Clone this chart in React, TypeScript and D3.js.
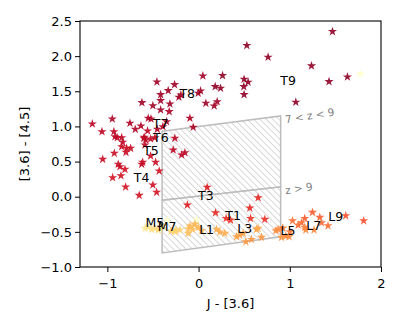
import React, { useEffect, useRef } from 'react'
import * as d3 from 'd3'

// [J - [3.6], [3.6] - [4.5], spectral index (M0 = 0, L0 = 10, T0 = 20)]
const tDwarfs: [number, number, number][] = [
  [-1.165, 1.036, 26], [-1.059, 0.926, 26], [-0.946, 1.107, 27], [-0.928, 0.926, 26], [-0.917, 0.855, 26],
  [-0.892, 0.84, 26], [-0.843, 0.84, 26], [-0.752, 1.046, 27], [-0.694, 0.96, 27], [-0.632, 1.007, 27],
  [-0.621, 1.339, 28], [-0.501, 1.296, 28], [-0.457, 1.634, 28], [-0.416, 1.453, 28], [-0.416, 1.368, 28],
  [-0.416, 1.235, 28], [-0.333, 1.51, 28], [-0.314, 1.321, 28], [-0.322, 1.211, 27], [-0.263, 1.595, 28],
  [-0.216, 1.416, 28], [-0.194, 1.449, 28], [-0.095, 1.117, 27], [-0.059, 0.989, 27], [-0.004, 1.473, 28],
  [0.022, 1.506, 28], [0.047, 1.719, 28], [0.08, 1.33, 28], [0.182, 1.567, 29], [0.241, 1.544, 29],
  [0.263, 1.724, 29], [0.204, 1.353, 28], [0.171, 1.292, 28], [-0.552, 1.117, 27], [-0.522, 1.107, 27],
  [-0.453, 0.96, 27], [-0.391, 0.997, 27], [-0.35, 1.068, 27], [-0.596, 0.846, 26], [-0.26, 0.832, 26],
  [1.468, 2.35, 29], [0.529, 2.151, 29], [0.762, 1.986, 29], [1.238, 1.862, 29], [1.632, 1.705, 29],
  [1.43, 1.638, 29], [1.066, 1.345, 29], [0.499, 1.672, 29], [0.543, 1.63, 29], [0.496, 1.567, 29],
  [0.499, 1.453, 29],
  [-0.832, 0.775, 26], [-0.745, 0.689, 25], [-0.789, 0.689, 25], [-0.796, 0.632, 25], [-0.843, 0.712, 25],
  [-0.924, 0.618, 25], [-1.051, 0.533, 25], [-0.881, 0.462, 25], [-0.862, 0.427, 25], [-0.807, 0.39, 24],
  [-0.942, 0.271, 24], [-0.851, 0.299, 24], [-0.8, 0.138, 24], [-0.651, 0.02, 24], [-0.613, 0.49, 25],
  [-0.624, 0.462, 25], [-0.526, 0.58, 25], [-0.471, 0.49, 25], [-0.432, 0.366, 24], [-0.501, 0.167, 24],
  [-0.46, 0.063, 24], [-0.599, 0.832, 26], [-0.58, 0.808, 26], [-0.526, 0.822, 26], [-0.588, 0.736, 26],
  [-0.559, 0.936, 26], [-0.479, 0.84, 26], [-0.278, 0.665, 26], [-0.186, 0.594, 26], [-0.15, 0.627, 26],
  [0.094, 0.134, 23], [0.653, -0.014, 22], [-0.123, -0.118, 23], [0.562, -0.161, 22], [0.186, -0.228, 22],
  [0.302, -0.308, 21], [0.35, -0.332, 21], [0.57, -0.308, 21], [0.726, -0.322, 21],
]

const lDwarfs: [number, number, number][] = [
  [-0.095, -0.417, 11], [-0.066, -0.464, 10], [-0.041, -0.389, 11], [-0.004, -0.436, 11], [0.033, -0.484, 11],
  [-0.114, -0.521, 10], [0.197, -0.464, 12], [0.233, -0.503, 12], [0.288, -0.521, 12], [0.416, -0.57, 13],
  [0.452, -0.546, 13], [0.489, -0.521, 13], [0.635, -0.464, 13], [0.518, -0.641, 14], [0.58, -0.607, 14],
  [0.653, -0.45, 12], [0.69, -0.578, 14], [0.847, -0.484, 15], [0.872, -0.464, 15], [0.909, -0.578, 14],
  [0.956, -0.56, 15], [0.992, -0.57, 15], [1.0, -0.499, 16], [1.03, -0.342, 17], [1.128, -0.37, 17],
  [1.164, -0.308, 18], [1.164, -0.436, 16], [1.091, -0.403, 17], [1.249, -0.222, 18], [1.329, -0.293, 18],
  [1.347, -0.37, 17], [1.266, -0.474, 15], [1.175, -0.474, 15], [1.419, -0.413, 17], [1.613, -0.271, 19],
  [1.81, -0.342, 19], [0.923, -0.446, 16],
]

const mDwarfs: [number, number, number][] = [
  [-0.586, -0.45, 5], [-0.552, -0.436, 5], [-0.515, -0.464, 6], [-0.479, -0.45, 6], [-0.442, -0.474, 7],
  [-0.394, -0.417, 7], [-0.344, -0.332, 0], [-0.249, -0.474, 8], [-0.303, -0.489, 8], [-0.205, -0.474, 8],
  [-0.114, -0.456, 9], [-0.424, -0.456, 7], [-0.26, -0.499, 8], [-0.022, -0.332, 0], [1.774, 1.748, 0],
]

// selection regions
const regionMidZ: [number, number][] = [[-0.4, 0.93], [0.9, 1.15], [0.9, 0.14], [-0.4, -0.05]]
const regionHighZ: [number, number][] = [[-0.4, -0.05], [0.9, 0.14], [0.9, -0.57], [-0.4, -0.8]]

const typeLabels: [string, number, number][] = [
  ['T8', -0.125, 1.473], ['T9', 0.981, 1.648], ['T7', -0.416, 1.046], ['T6', -0.413, 0.84],
  ['T5', -0.522, 0.651], ['T4', -0.624, 0.276], ['T3', 0.08, 0.014], ['T1', 0.379, -0.261],
  ['M5', -0.479, -0.37], ['M7', -0.344, -0.417], ['L1', 0.088, -0.464], ['L3', 0.507, -0.45],
  ['L5', 0.981, -0.484], ['L7', 1.263, -0.403], ['L9', 1.504, -0.275],
]

const xTicks = [-1, 0, 1, 2]
const yTicks = [-1, -0.5, 0, 0.5, 1, 1.5, 2, 2.5]

export default function App() {
  const svgRef = useRef<SVGSVGElement>(null)

  useEffect(() => {
    const svg = d3.select(svgRef.current)
    svg.selectAll('*').remove()
    const width = 408, height = 326
    const margin = { top: 21, right: 27, bottom: 59, left: 80 }
    const x = d3.scaleLinear().domain([-1.3, 2]).range([margin.left, width - margin.right])
    const y = d3.scaleLinear().domain([-1, 2.5]).range([height - margin.bottom, margin.top])
    const color = d3.scaleSequential(d3.interpolateYlOrRd).domain([0, 30])
    const font = 'DejaVu Sans, sans-serif'

    const defs = svg.append('defs')
    const pat = defs.append('pattern')
      .attr('id', 'hatch')
      .attr('patternUnits', 'userSpaceOnUse')
      .attr('width', 4.5).attr('height', 4.5)
      .attr('patternTransform', 'rotate(-45)')
    pat.append('line')
      .attr('x1', 0).attr('y1', 0).attr('x2', 0).attr('y2', 4.5)
      .attr('stroke', '#b8b8b8').attr('stroke-width', 1.1)

    const line = d3.line<[number, number]>().x(d => x(d[0])).y(d => y(d[1]))
    ;[regionMidZ, regionHighZ].forEach(r => {
      svg.append('path')
        .attr('d', line(r) + 'Z')
        .attr('fill', 'url(#hatch)')
        .attr('stroke', '#bdbdbd')
        .attr('stroke-width', 1.5)
    })

    // region labels
    svg.append('text')
      .attr('transform', `translate(${x(0.955)},${y(1.045)}) rotate(-9)`)
      .attr('font-family', font).attr('font-size', 10.5).attr('fill', '#808080')
      .text('7 < z < 9')
    svg.append('text')
      .attr('transform', `translate(${x(0.955)},${y(0.035)}) rotate(-9)`)
      .attr('font-family', font).attr('font-size', 10.5).attr('fill', '#808080')
      .text('z > 9')

    const star = d3.symbol().type(d3.symbolStar).size(26)
    const all = [...mDwarfs, ...lDwarfs, ...tDwarfs]
    svg.append('g').selectAll('path').data(all).enter().append('path')
      .attr('d', star)
      .attr('transform', d => `translate(${x(d[0])},${y(d[1])})`)
      .attr('fill', d => color(d[2]))
      .attr('fill-opacity', 0.9)

    svg.append('g').selectAll('text').data(typeLabels).enter().append('text')
      .attr('x', d => x(d[1])).attr('y', d => y(d[2]))
      .attr('text-anchor', 'middle').attr('dominant-baseline', 'central')
      .attr('font-family', font).attr('font-size', 12.5).attr('fill', '#000')
      .text(d => d[0])

    // axes
    const xAxis = svg.append('g')
      .attr('transform', `translate(0,${height - margin.bottom})`)
      .call(d3.axisBottom(x).tickValues(xTicks).tickFormat(d3.format('d')).tickSize(5).tickSizeOuter(0))
    const yAxis = svg.append('g')
      .attr('transform', `translate(${margin.left},0)`)
      .call(d3.axisLeft(y).tickValues(yTicks).tickFormat(d3.format('.1f')).tickSize(5).tickSizeOuter(0))
    ;[xAxis, yAxis].forEach(a => {
      a.select('.domain').remove()
      a.selectAll('text').attr('font-family', font).attr('font-size', 13).attr('fill', '#000')
      a.selectAll('line').attr('stroke', '#000').attr('stroke-width', 1)
    })
    xAxis.selectAll('text').attr('dy', '1.0em')

    svg.append('rect')
      .attr('x', margin.left).attr('y', margin.top)
      .attr('width', width - margin.left - margin.right)
      .attr('height', height - margin.top - margin.bottom)
      .attr('fill', 'none').attr('stroke', '#000').attr('stroke-width', 1.1)

    svg.append('text')
      .attr('x', (margin.left + width - margin.right) / 2).attr('y', 308)
      .attr('text-anchor', 'middle')
      .attr('font-family', font).attr('font-size', 13)
      .text('J - [3.6]')
    svg.append('text')
      .attr('transform', `translate(29,${(margin.top + height - margin.bottom) / 2}) rotate(-90)`)
      .attr('text-anchor', 'middle')
      .attr('font-family', font).attr('font-size', 13)
      .text('[3.6] - [4.5]')
  }, [])

  return (
    <svg ref={svgRef} width={408} height={326}
      style={{ position: 'absolute', left: 0, top: 0, background: '#fff' }} />
  )
}
